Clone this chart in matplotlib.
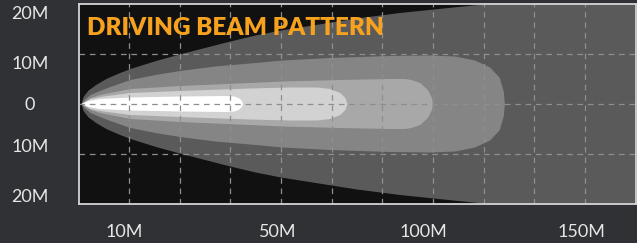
import matplotlib
matplotlib.use("Agg")
import matplotlib.pyplot as plt
import numpy as np

# ---------------- data ----------------
title = "DRIVING BEAM PATTERN"
x_tick_labels = ["10M", "50M", "100M", "150M"]
y_tick_labels = ["20M", "10M", "0", "10M", "20M"]

# beam layers: distance (grid units, 1 unit per grid cell) and half-width (grid units, 10M per unit)
outer_x  = [0.06, 0.10, 0.20, 0.35, 0.55, 0.80, 1.03, 1.50, 2.00, 2.50, 3.00, 3.50, 4.00, 4.75, 5.50, 6.35, 7.50, 8.10, 9.50, 11.2]
outer_hw = [0.00, 0.14, 0.27, 0.38, 0.50, 0.61, 0.70, 0.85, 0.99, 1.12, 1.25, 1.37, 1.47, 1.59, 1.71, 1.82, 1.94, 2.00, 2.10, 2.22]

mid_x  = [0.06, 0.14, 0.24, 0.43, 0.63, 1.03, 1.52, 2.01, 2.70, 3.39, 4.04, 4.97, 6.15, 6.94, 7.44, 7.83, 8.13, 8.32, 8.40, 8.42]
mid_hw = [0.00, 0.10, 0.18, 0.26, 0.34, 0.48, 0.58, 0.66, 0.75, 0.81, 0.87, 0.92, 0.96, 0.97, 0.95, 0.87, 0.73, 0.52, 0.24, 0.00]

inner_x  = [0.06, 0.24, 0.43, 1.03, 2.01, 3.39, 4.04, 5.17, 6.15, 6.45, 6.58, 6.75, 6.90, 6.98, 7.00]
inner_hw = [0.00, 0.12, 0.18, 0.30, 0.36, 0.42, 0.45, 0.48, 0.50, 0.50, 0.48, 0.42, 0.28, 0.12, 0.00]

bright_x  = [0.06, 0.24, 0.43, 1.03, 2.01, 3.39, 4.18, 4.71, 4.97, 5.17, 5.27, 5.31]
bright_hw = [0.00, 0.10, 0.14, 0.22, 0.26, 0.31, 0.33, 0.33, 0.30, 0.22, 0.12, 0.00]

hot_x  = [0.06, 0.20, 0.43, 1.03, 2.01, 2.93, 3.08, 3.16, 3.22, 3.25]
hot_hw = [0.00, 0.06, 0.10, 0.13, 0.15, 0.16, 0.15, 0.12, 0.07, 0.00]

layers = [
    (outer_x, outer_hw, "#5a5a5a"),
    (mid_x, mid_hw, "#858585"),
    (inner_x, inner_hw, "#a8a8a8"),
    (bright_x, bright_hw, "#d2d2d2"),
    (hot_x, hot_hw, "#ffffff"),
]

# ---------------- figure ----------------
W, H, DPI = 637, 243, 100
fig = plt.figure(figsize=(W / DPI, H / DPI), dpi=DPI, facecolor="#2f3134")
ax = fig.add_axes([78.5 / W, 1 - 204 / H, (635.5 - 78.5) / W, 200 / H])
ax.set_facecolor("#111111")
ax.set_xlim(0, 11)
ax.set_ylim(-2, 2)

for xs, hws, col in layers:
    xs = np.asarray(xs)
    hws = np.asarray(hws)
    ax.fill(np.concatenate([xs, xs[::-1]]),
            np.concatenate([hws, -hws[::-1]]),
            color=col, lw=0, zorder=2, antialiased=True)

# grid
for gx in range(1, 11):
    ax.axvline(gx, color="#8e8e8e", lw=0.9, ls=(0, (4.5, 3.8)), zorder=3)
for gy in (-1, 0, 1):
    ax.axhline(gy, color="#8e8e8e", lw=0.9, ls=(0, (4.5, 3.8)), zorder=3)

for s in ax.spines.values():
    s.set_color("#d4d4d4")
    s.set_linewidth(1.3)
    s.set_zorder(5)

# ticks
ax.set_xticks([0.91, 3.93, 6.82, 9.94])
ax.set_xticklabels(x_tick_labels)
ax.set_yticks([1.82, 0.82, 0.0, -0.84, -1.82])
ax.set_yticklabels(y_tick_labels)
ax.tick_params(axis="both", length=0, colors="#e6e6e6", labelsize=13)
ax.tick_params(axis="x", pad=14.5)
ax.tick_params(axis="y", pad=35)
for lab in ax.get_yticklabels():
    lab.set_horizontalalignment("center")
    lab.set_family(["Lato", "DejaVu Sans"])
for lab in ax.get_xticklabels():
    lab.set_family(["Lato", "DejaVu Sans"])

ax.text(0.016, 0.845, title, transform=ax.transAxes, ha="left", va="baseline",
        fontsize=17.5, fontweight="heavy", color="#f6a21e",
        family=["Lato", "DejaVu Sans"], zorder=6)

fig.savefig("out.png", dpi=DPI, facecolor=fig.get_facecolor())
